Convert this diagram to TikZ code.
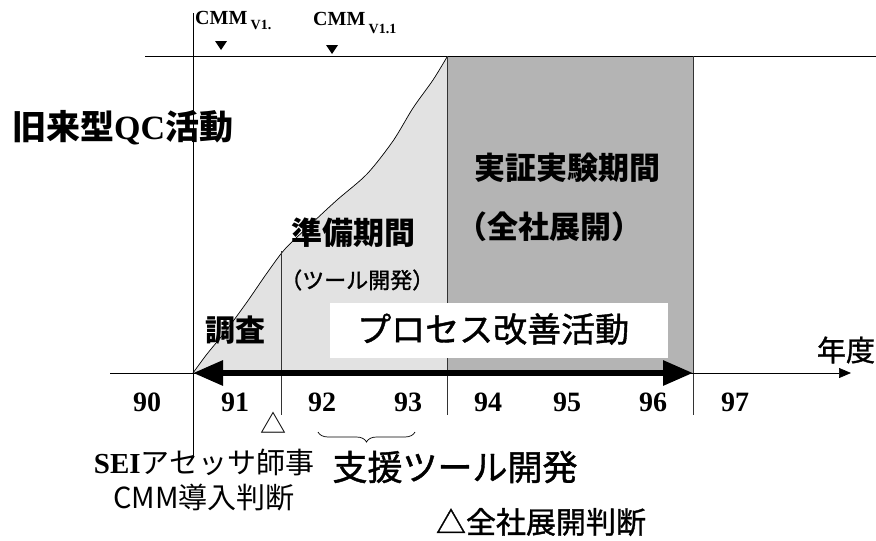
\documentclass[tikz,border=0pt]{standalone}
\usepackage{fontspec}
\setmainfont{Liberation Serif}
\newfontfamily\jp{Noto Sans CJK JP}
\newfontfamily\jpm{Noto Sans CJK JP}[FakeBold=1.2]
\usetikzlibrary{arrows.meta,decorations.pathreplacing}
\definecolor{lightfill}{HTML}{E2E2E2}
\definecolor{darkfill}{HTML}{B4B4B4}
\begin{document}
\begin{tikzpicture}[x=1pt,y=-1pt,
  jpt/.style={font=\jp\fontsize{#1}{#1}\selectfont, inner sep=0pt},
  jpm/.style={font=\jpm\fontsize{#1}{#1}\selectfont, inner sep=0pt},
  jpb/.style={font=\jp\bfseries\fontsize{#1}{#1}\selectfont, inner sep=0pt},
  yr/.style={font=\bfseries\fontsize{28}{28}\selectfont, inner sep=0pt},
  thin/.style={line width=0.7pt},
  divider/.style={line width=0.6pt, black!80}]
\useasboundingbox (0,0) rectangle (876,541);
% coordinates
\coordinate (axL) at (110,373);
\coordinate (axR) at (851,373);
\coordinate (o) at (193,373);
\coordinate (e) at (693,373);
\coordinate (topL) at (145,56);
\coordinate (topR) at (876,56);
% fills
\fill[lightfill] (193,373) plot[smooth, tension=0.5] coordinates {(193,373) (207,354) (225,332) (247,302) (267,273) (285,249) (310,225) (337,200) (367,174) (393,141) (413,108) (433,80) (447,57)} -- (447,373) -- cycle;
\fill[darkfill] (447,56) rectangle (693,373);
% curve
\draw[thin] plot[smooth, tension=0.5] coordinates {(193,373) (207,354) (225,332) (247,302) (267,273) (285,249) (310,225) (337,200) (367,174) (393,141) (413,108) (433,80) (447,57)};
% lines
\draw[thin] (topL) -- (topR);
\draw[thin] (193,13) -- (193,458);
\draw[divider] (281,251) -- (281,415);
\draw[divider] (447,56) -- (447,415);
\draw[divider] (693,56) -- (693,415);
\draw[thin, -{Triangle[length=12pt,width=10pt]}] (axL) -- (axR);
% white box
\node[fill=white, minimum width=338pt, minimum height=55pt, inner sep=0pt, anchor=north west] (box) at (330,303) {};
\node[jpm=34, anchor=west] (proc) at (357,329) {プロセス改善活動};
% thick double arrow
\draw[line width=6pt, {Triangle[length=30pt,width=24pt]}-{Triangle[length=30pt,width=24pt]}] (o) -- (e);
% CMM markers
\node[anchor=west, inner sep=0pt, font=\bfseries\fontsize{20}{20}\selectfont] (cmma) at (195,20) {CMM\,\raisebox{-5pt}{\fontsize{14}{14}\selectfont V1.}};
\node[anchor=west, inner sep=0pt, font=\bfseries\fontsize{20}{20}\selectfont] (cmmb) at (313,23) {CMM\,\raisebox{-8pt}{\fontsize{14}{14}\selectfont V1.1}};
\fill (215,41) -- (227,41) -- (221,50) -- cycle;
\fill (326,45) -- (338,45) -- (332,54) -- cycle;
% texts
\node[jpb=34, anchor=west] (old) at (12,128) {旧来型{\rmfamily\bfseries QC}活動};
\node[jpb=31] (exp) at (567,168) {実証実験期間};
\node[jpb=31, anchor=west] (exp2) at (456,227) {（全社展開）};
\node[jpb=31] (prep) at (353,233) {準備期間};
\node[jpm=22, anchor=west] (prep2) at (280,280) {（ツール開発）};
\node[jpb=30] (inv) at (235,330) {調査};
\node[jpm=29] (nendo) at (846,350) {年度};
% years
\node[yr] (y90) at (147,402) {90};
\node[yr] (y91) at (235,402) {91};
\node[yr] (y92) at (322,402) {92};
\node[yr] (y93) at (408,402) {93};
\node[yr] (y94) at (488,402) {94};
\node[yr] (y95) at (567,402) {95};
\node[yr] (y96) at (653,402) {96};
\node[yr] (y97) at (735,402) {97};
% bottom
\node[jpt=26] (tri1) at (273,423) {△};
\draw[thin, decorate, decoration={brace, amplitude=10pt, mirror}] (318,432) -- (415,432);
\node[jpt=29] (sei) at (204,463) {{\rmfamily\bfseries SEI}アセッサ師事};
\node[jpt=29] (cmmj) at (204,498) {CMM導入判断};
\node[jpm=35] (tool) at (455,467) {支援ツール開発};
\node[jpm=30] (zen) at (541,522) {△全社展開判断};
\end{tikzpicture}
\end{document}
